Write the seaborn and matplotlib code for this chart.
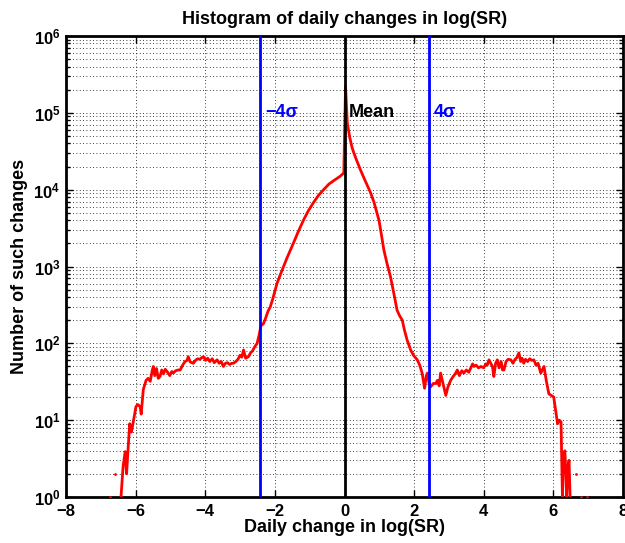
import numpy as np
import pandas as pd
import seaborn as sns
import matplotlib.pyplot as plt
from matplotlib.ticker import LogLocator, FixedLocator, FuncFormatter

# histogram of daily changes (bin centre, count); 0 = empty bin
bin_x = [-6.73, -6.66, -6.59, -6.52, -6.45, -6.42, -6.36, -6.30, -6.26, -6.22, -6.17, -6.12,
         -6.06, -5.99, -5.94, -5.87, -5.84, -5.78, -5.70, -5.64, -5.58, -5.52, -5.49, -5.45,
         -5.40, -5.35, -5.30, -5.25, -5.20, -5.15, -5.08, -5.02, -4.96, -4.92, -4.85, -4.78,
         -4.72, -4.65, -4.58, -4.52, -4.49, -4.43, -4.38, -4.34, -4.28, -4.22, -4.16, -4.10,
         -4.05, -3.99, -3.93, -3.87, -3.80, -3.74, -3.66, -3.60, -3.54, -3.48, -3.42, -3.36,
         -3.30, -3.24, -3.19, -3.12, -3.06, -3.00, -2.95, -2.90, -2.84, -2.76, -2.70, -2.64,
         -2.58, -2.51, -2.45, -2.40, -2.33, -2.27, -2.20, -2.13, -2.06, -2.00, -1.94, -1.85,
         -1.75, -1.65, -1.55, -1.45, -1.35, -1.25, -1.18, -1.05, -0.90, -0.75, -0.60, -0.45,
         -0.30, -0.12, -0.02, 0.03, 0.08, 0.15, 0.22, 0.27, 0.35, 0.46, 0.55, 0.65, 0.75,
         0.85, 0.99, 1.06, 1.13, 1.22, 1.32, 1.42, 1.51, 1.58, 1.66, 1.72, 1.80, 1.90, 1.98,
         2.09, 2.16, 2.23, 2.30, 2.35, 2.38, 2.43, 2.47, 2.55, 2.62, 2.67, 2.72, 2.76, 2.83,
         2.91, 2.97, 3.05, 3.12, 3.18, 3.24, 3.30, 3.37, 3.43, 3.50, 3.57, 3.63, 3.68, 3.72,
         3.78, 3.85, 3.92, 4.00, 4.06, 4.10, 4.15, 4.20, 4.25, 4.29, 4.34, 4.39, 4.44, 4.50,
         4.54, 4.58, 4.64, 4.70, 4.78, 4.84, 4.90, 4.95, 5.01, 5.06, 5.10, 5.15, 5.20, 5.26,
         5.32, 5.38, 5.44, 5.50, 5.56, 5.60, 5.64, 5.68, 5.73, 5.80, 5.87, 5.94, 6.01, 6.07,
         6.12, 6.17, 6.22, 6.26, 6.29, 6.33, 6.36, 6.38, 6.42, 6.45, 6.48, 6.55, 6.65, 6.72,
         6.80, 6.90, 6.98]
counts = [1, 0, 2, 0, 0, 1, 2.5, 3.9, 2, 4, 9, 7,
          10, 15, 16, 15, 12, 25, 33, 35, 32, 45, 50, 38,
          47, 35, 37, 45, 40, 46, 42, 38, 43, 41, 44, 45,
          45, 52, 58, 60, 67, 57, 56, 55, 60, 63, 62, 65,
          67, 60, 64, 58, 63, 56, 61, 55, 58, 50, 55, 56,
          53, 55, 55, 58, 62, 70, 66, 82, 64, 67, 75, 80,
          90, 100, 130, 170, 180, 210, 260, 300, 380, 480, 600, 770,
          1000, 1300, 1650, 2100, 2700, 3400, 4000, 5200, 6700, 8400, 10000, 11800,
          13200, 15000, 16500, 220000, 74000, 48000, 35000, 30000, 24000, 18000, 14500, 11500, 9100,
          6800, 4000, 2600, 1650, 1100, 740, 440, 270, 230, 200, 150, 110, 82, 70,
          61, 52, 41, 26, 38, 41, 30, 27, 30, 30, 33, 28, 41, 30,
          21, 27, 33, 37, 40, 45, 38, 44, 41, 45, 42, 48, 54, 50,
          52, 48, 50, 48, 54, 52, 61, 55, 50, 37, 55, 61, 48, 58,
          45, 45, 58, 62, 61, 55, 62, 65, 75, 58, 64, 55, 62, 58,
          63, 60, 61, 52, 55, 47, 41, 45, 50, 32, 22, 21, 20, 13,
          9, 10, 9.5, 1, 3, 4, 2, 1, 2.5, 3, 1, 0, 2, 0,
          1, 0, 1]

sigma_pos = [-2.43, 2.43]
mean_pos = 0.0

sns.set_style("ticks")
plt.rcParams['font.family'] = ['Liberation Sans', 'DejaVu Sans']
plt.rcParams['mathtext.fontset'] = 'custom'
plt.rcParams['mathtext.bf'] = 'Liberation Sans:bold'
plt.rcParams['mathtext.rm'] = 'Liberation Sans:bold'
plt.rcParams['mathtext.default'] = 'bf'
for k in ['text.color', 'axes.labelcolor', 'xtick.color', 'ytick.color', 'axes.edgecolor']:
    plt.rcParams[k] = 'black'

df = pd.DataFrame({"x": bin_x, "n": counts})
df["n"] = df["n"].replace(0, np.nan)
df["seg"] = df["n"].isna().cumsum()
df = df.dropna()
seg_size = df.groupby("seg")["x"].transform("size")
lines = df[seg_size > 1]
dots = df[seg_size == 1]

fig = plt.figure(figsize=(6.25, 5.43), dpi=100)
ax = fig.add_axes([0.1056, 0.0847, 0.8912, 0.849])

sns.lineplot(data=lines, x="x", y="n", units="seg", estimator=None, sort=False,
             color="red", linewidth=2, ax=ax, zorder=3)
sns.scatterplot(data=dots, x="x", y="n", color="red", s=4, linewidth=0, ax=ax, zorder=3)

for xv in sigma_pos:
    ax.axvline(xv, color="blue", lw=2, zorder=4)
ax.axvline(mean_pos, color="black", lw=2, zorder=4)

ax.set_yscale("log")
ax.set_xlim(-8, 8)
ax.set_ylim(1, 1e6)
ax.xaxis.set_major_locator(FixedLocator(np.arange(-8, 9, 2)))
ax.yaxis.set_major_locator(LogLocator(base=10, numticks=10))
ax.yaxis.set_minor_locator(LogLocator(base=10, subs=np.arange(2, 10), numticks=10))
ax.yaxis.set_minor_formatter(plt.NullFormatter())
ax.yaxis.set_major_formatter(FuncFormatter(lambda v, p: r"$\mathbf{10^{%d}}$" % round(np.log10(v))))
ax.xaxis.set_major_formatter(FuncFormatter(lambda v, p: "%d" % v if v >= 0 else "\u2212%d" % -v))

ax.grid(True, which="major", axis="both", color="black", linestyle=(0, (1, 3)), linewidth=0.6)
ax.grid(True, which="minor", axis="y", color="black", linestyle=(0, (1, 3)), linewidth=0.6)

ax.tick_params(which="both", direction="in", top=True, right=True, labelsize=12, width=1)
ax.tick_params(which="major", length=5)
ax.tick_params(which="minor", length=3)
ax.tick_params(axis="x", pad=5)
ax.tick_params(axis="y", pad=4)
for lab in ax.get_xticklabels():
    lab.set_fontweight("bold")
for sp in ax.spines.values():
    sp.set_linewidth(2)

ax.text(-2.28, 1e5, "\u22124\u03c3", color="blue", fontsize=13, fontweight="bold", va="center")
ax.text(0.13, 1e5, "Mean", color="black", fontsize=13, fontweight="bold", va="center")
ax.text(2.57, 1e5, "4\u03c3", color="blue", fontsize=13, fontweight="bold", va="center")

ax.set_title("Histogram of daily changes in log(SR)", fontsize=13, fontweight="bold", pad=9)
ax.set_xlabel("Daily change in log(SR)", fontsize=13, fontweight="bold", labelpad=0)
ax.set_ylabel("Number of such changes", fontsize=13, fontweight="bold", labelpad=4)

fig.savefig("out.png", dpi=100)
